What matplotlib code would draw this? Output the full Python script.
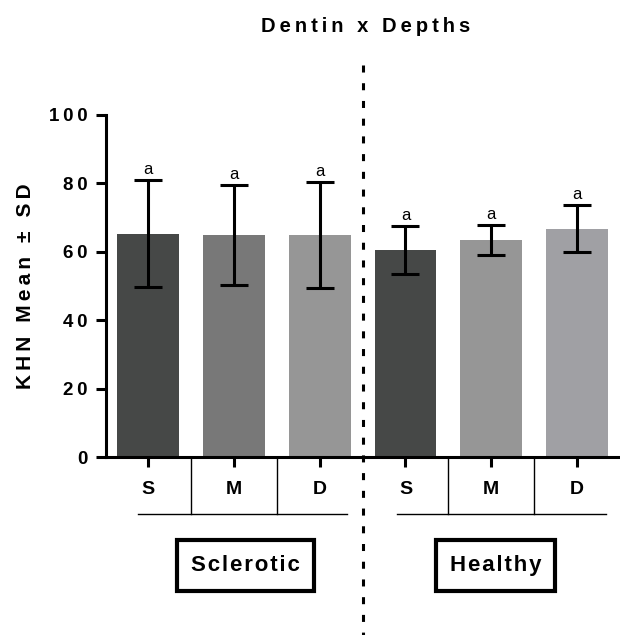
import numpy as np
import matplotlib
matplotlib.use('Agg')
import matplotlib.pyplot as plt
from matplotlib.patches import Rectangle

# values
depths = ['S', 'M', 'D', 'S', 'M', 'D']
groups = ['Sclerotic', 'Healthy']
means = [65.3, 64.8, 65.0, 60.4, 63.4, 66.8]
sds = [15.7, 14.6, 15.5, 7.0, 4.3, 7.0]
letters = ['a', 'a', 'a', 'a', 'a', 'a']
colors = ['#464847', '#787878', '#969696', '#464847', '#969696', '#a0a0a4']
yticks = [0, 20, 40, 60, 80, 100]

plt.rcParams['font.family'] = ['Liberation Sans', 'DejaVu Sans']


def spaced(s, sep='\u2009'):
    return sep.join(s)


fig = plt.figure(figsize=(6.2, 6.35), dpi=100)
ax = fig.add_axes([0.171, 0.2803, 0.829, 0.5386])
x = np.arange(len(means))

ax.bar(x, means, width=0.72, color=colors, zorder=2)
ax.errorbar(x, means, yerr=sds, fmt='none', ecolor='black', elinewidth=2.2,
            capsize=10, capthick=2.2, zorder=3)
for xi, m, s, l in zip(x, means, sds, letters):
    ax.text(xi, m + s + 0.9, l, ha='center', va='bottom', fontsize=12)

ax.set_xlim(-0.49, 5.5)
ax.set_ylim(0, 100)
ax.set_yticks(yticks)
ax.set_yticklabels([spaced(str(t)) for t in yticks], fontsize=13.5, fontweight='bold')
ax.set_xticks(x)
ax.set_xticklabels([])
ax.tick_params(axis='both', direction='out', length=7, width=2.2, color='black')
ax.tick_params(axis='y', pad=6)
for side in ['top', 'right']:
    ax.spines[side].set_visible(False)
for side in ['left', 'bottom']:
    ax.spines[side].set_linewidth(2.2)

# depth labels and separators under the axis
for xi, d in zip(x, depths):
    ax.text(xi, -9.4, d, ha='center', va='center', fontsize=14, fontweight='bold')
for sx in [0.5, 1.5, 3.5, 4.5]:
    ax.plot([sx, sx], [0, -16.7], color='black', lw=1, clip_on=False)
ax.plot([-0.12, 2.32], [-16.7, -16.7], color='black', lw=1, clip_on=False)
ax.plot([2.90, 5.34], [-16.7, -16.7], color='black', lw=1, clip_on=False)

# group boxes
boxes = [(0.338, 1.930), (3.357, 4.747)]
for (x0, x1), g in zip(boxes, groups):
    ax.add_patch(Rectangle((x0, -39.1), x1 - x0, 14.9, fc='white', ec='black',
                           lw=3, clip_on=False))
    ax.text((x0 + x1) / 2, -31.8, spaced(g, '\u200a'), ha='center', va='center',
            fontsize=16, fontweight='bold')

# dotted divider
ax.plot([2.5, 2.5], [114.6, -53.5], color='black', lw=2.2, dashes=(2.3, 3.5),
        clip_on=False)

fig.text(366 / 620, 1 - 26 / 635, spaced('Dentin x Depths'), ha='center', va='center',
         fontsize=14.5, fontweight='bold')
fig.text(26 / 620, 1 - 286 / 635, spaced('KHN Mean ± SD'), ha='center', va='center',
         rotation=90, fontsize=15, fontweight='bold')

fig.savefig('out.png', dpi=100)
